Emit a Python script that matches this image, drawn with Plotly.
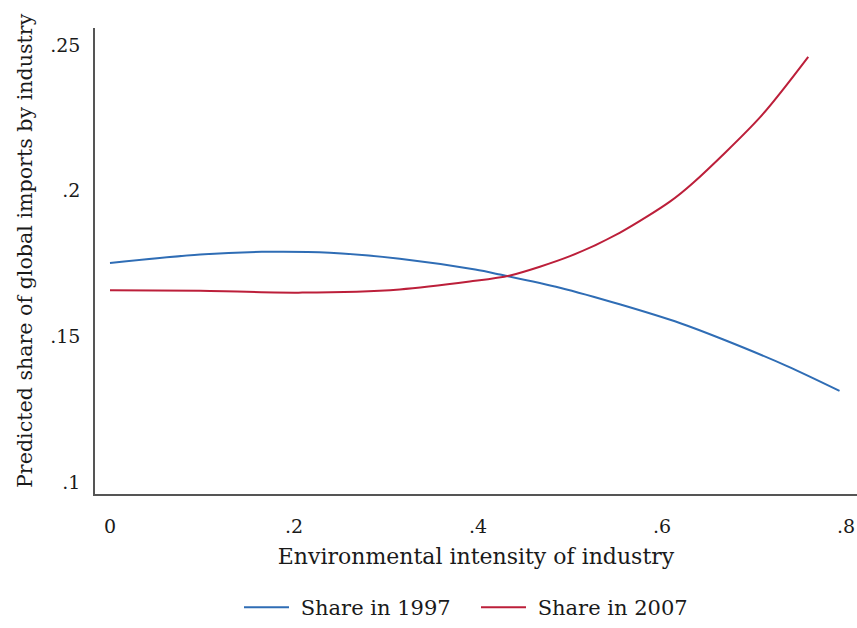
import plotly.graph_objects as go

x_1997 = [0.0, 0.098, 0.165, 0.239, 0.315, 0.397, 0.424, 0.489, 0.554, 0.620, 0.666, 0.736, 0.793]
y_1997 = [0.1752, 0.1781, 0.1790, 0.1787, 0.1766, 0.1729, 0.1712, 0.1667, 0.1610, 0.1545, 0.1490, 0.1398, 0.1313]

x_2007 = [0.0, 0.098, 0.209, 0.315, 0.391, 0.435, 0.500, 0.554, 0.609, 0.634, 0.707, 0.759]
y_2007 = [0.1658, 0.1656, 0.1650, 0.1661, 0.1688, 0.1709, 0.1775, 0.1855, 0.1963, 0.2027, 0.2253, 0.2459]

x_ticks = [0, 0.2, 0.4, 0.6, 0.8]
x_ticktext = ["0", ".2", ".4", ".6", ".8"]
y_ticks = [0.1, 0.15, 0.2, 0.25]
y_ticktext = [".1", ".15", ".2", ".25"]

FONT = "Palatino Linotype, Book Antiqua, Palatino, DejaVu Serif, serif"

fig = go.Figure()
fig.add_trace(go.Scatter(x=x_1997, y=y_1997, mode="lines", name="\u00a0Share in 1997",
                         line=dict(color="#2f6db5", width=2, shape="spline", smoothing=0.8)))
fig.add_trace(go.Scatter(x=x_2007, y=y_2007, mode="lines", name="\u00a0Share in 2007",
                         line=dict(color="#bc1f3a", width=2, shape="spline", smoothing=0.8)))

fig.update_layout(
    width=857, height=628,
    margin=dict(l=95, r=0, t=28, b=133),
    paper_bgcolor="white", plot_bgcolor="white",
    font=dict(family=FONT, size=19, color="#1a1a1a"),
    showlegend=True,
    legend=dict(orientation="h", x=0.5, xanchor="center", y=-0.2, yanchor="top",
                font=dict(size=21), entrywidth=177, entrywidthmode="pixels",
                itemwidth=45, tracegroupgap=0),
    xaxis=dict(range=[-0.0163, 0.812], tickvals=x_ticks, ticktext=x_ticktext,
               automargin=False,
               showgrid=False, zeroline=False, showline=True, linecolor="#555555",
               linewidth=1.5, ticks="outside", ticklen=14, tickcolor="white",
               title=dict(text="Environmental intensity of industry", font=dict(size=22), standoff=13)),
    yaxis=dict(range=[0.0959, 0.2558], tickvals=y_ticks, ticktext=y_ticktext,
               automargin=False,
               showgrid=False, zeroline=False, showline=True, linecolor="#555555",
               linewidth=1.5, ticks="outside", ticklen=9, tickcolor="white"),
    annotations=[dict(text="Predicted share of global imports by industry",
                      xref="paper", yref="paper", x=0, y=0.5, xanchor="center", yanchor="middle",
                      xshift=-70, yshift=10, textangle=-90, showarrow=False,
                      font=dict(size=20.6))],
)

fig.write_html("out.html", config={"displayModeBar": False},
               post_script="document.body.style.margin='0';document.body.style.overflow='hidden';")
